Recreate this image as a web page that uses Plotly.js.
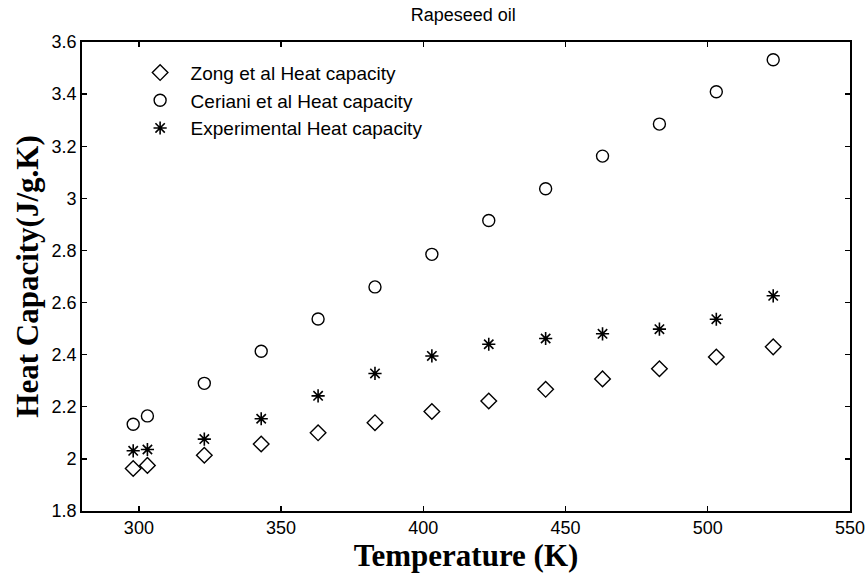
<!DOCTYPE html>
<html>
<head>
<meta charset="utf-8">
<script src="https://cdn.plot.ly/plotly-3.0.1.min.js"></script>
<style>html,body{margin:0;padding:0;background:#fff;}#chart{width:866px;height:573px;}</style>
</head>
<body>
<div id="chart"></div>
<script>
const temperature = [298, 303, 323, 343, 363, 383, 403, 423, 443, 463, 483, 503, 523];
const zongCp = [1.963, 1.975, 2.014, 2.057, 2.100, 2.139, 2.182, 2.222, 2.267, 2.307, 2.346, 2.391, 2.430];
const cerianiCp = [2.133, 2.165, 2.290, 2.413, 2.537, 2.660, 2.785, 2.915, 3.037, 3.162, 3.285, 3.409, 3.532];
const experimentalCp = [2.031, 2.036, 2.076, 2.154, 2.242, 2.328, 2.395, 2.440, 2.462, 2.480, 2.498, 2.536, 2.626];
const seriesNames = ["Zong et al Heat capacity", "Ceriani et al Heat capacity", "Experimental Heat capacity"];
const xTicks = [300, 350, 400, 450, 500, 550];
const yTicks = [1.8, 2, 2.2, 2.4, 2.6, 2.8, 3, 3.2, 3.4, 3.6];

const traces = [
  {x: temperature, y: zongCp, name: seriesNames[0], legendgroup: "a", type: "scatter", mode: "markers",
   marker: {symbol: "diamond-open", size: 12, color: "#000", line: {width: 1.4, color: "#000"}}},
  {x: temperature, y: cerianiCp, name: seriesNames[1], legendgroup: "b", type: "scatter", mode: "markers",
   marker: {symbol: "circle-open", size: 12, color: "#000", line: {width: 1.4, color: "#000"}}},
  {x: temperature, y: experimentalCp, name: seriesNames[2], legendgroup: "c", type: "scatter", mode: "markers",
   marker: {symbol: "asterisk-open", size: 11, color: "#000", line: {width: 1.6, color: "#000"}}}
];

const axisCommon = {
  showline: true, linecolor: "#000", linewidth: 1.8, mirror: "ticks",
  ticks: "inside", ticklen: 5, tickwidth: 1.3, tickcolor: "#000",
  showgrid: false, zeroline: false,
  tickfont: {family: "Liberation Sans, Arial, sans-serif", size: 18, color: "#000"}
};

const layout = {
  width: 866, height: 573,
  margin: {l: 82, r: 16, t: 42, b: 62},
  paper_bgcolor: "#fff", plot_bgcolor: "#fff",
  title: {text: "Rapeseed oil", x: 0.535, xanchor: "center", y: 0.975, yanchor: "middle",
          font: {family: "Liberation Sans, Arial, sans-serif", size: 18, color: "#000"}},
  xaxis: Object.assign({}, axisCommon, {
    range: [280, 550], tickvals: xTicks, ticktext: xTicks.map(String),
    title: {text: "<b>Temperature (K)</b>", standoff: 2,
            font: {family: "Liberation Serif, Times New Roman, serif", size: 31, color: "#000"}}
  }),
  yaxis: Object.assign({}, axisCommon, {
    range: [1.8, 3.6], tickvals: yTicks, ticktext: yTicks.map(v => String(v)),
    title: {text: "<b>Heat Capacity(J/g.K)</b>", standoff: 4,
            font: {family: "Liberation Serif, Times New Roman, serif", size: 31, color: "#000"}}
  }),
  showlegend: true,
  legend: {x: 0.062, y: 0.975, xanchor: "left", yanchor: "top", bgcolor: "rgba(0,0,0,0)",
           borderwidth: 0, tracegroupgap: 0, itemwidth: 51,
           font: {family: "Liberation Sans, Arial, sans-serif", size: 19, color: "#000"}}
};

Plotly.newPlot("chart", traces, layout, {displayModeBar: false, staticPlot: true});
</script>
</body>
</html>
